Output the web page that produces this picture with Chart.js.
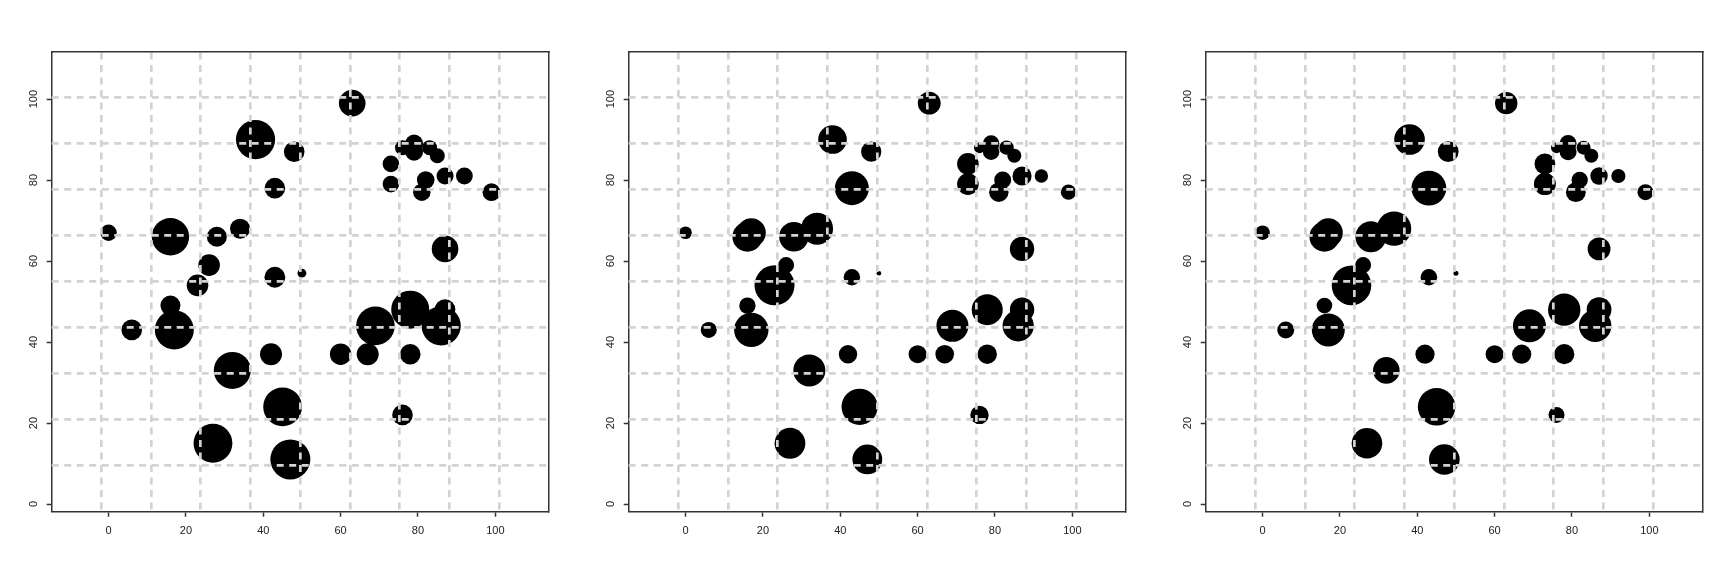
<!DOCTYPE html>
<html>
<head>
<meta charset="utf-8">
<script src="https://cdn.jsdelivr.net/npm/chart.js@4.4.1/dist/chart.umd.min.js"></script>
<style>
  html, body { margin: 0; padding: 0; background: #fff; }
  #wrap { display: flex; width: 1731px; height: 577px; }
  canvas { display: block; }
</style>
</head>
<body>
<div id="wrap">
  <canvas id="c1" width="577" height="577"></canvas>
  <canvas id="c2" width="577" height="577"></canvas>
  <canvas id="c3" width="577" height="577"></canvas>
</div>
<script>
// Point coordinates (same in all three panels)
const xs = [0, 16, 17, 28, 34, 26, 23, 43, 50, 16, 6, 17, 32, 42, 45, 27, 47, 38, 48, 43,
  63, 73, 73, 76, 79, 79, 83, 85, 82, 81, 87, 92, 99, 87, 78, 87, 86, 69, 60, 67, 78, 76];
const ys = [67, 66, 67, 66, 68, 59, 54, 56, 57, 49, 43, 43, 33, 37, 24, 15, 11, 90, 87, 78,
  99, 84, 79, 88, 89, 87, 88, 86, 80, 77, 81, 81, 77, 63, 48, 48, 44, 44, 37, 37, 37, 22];

// Bubble size per panel
const size1 = [8.2, 18.7, 8, 10, 10, 10.8, 10.8, 10.4, 4.4, 10, 10.3, 19.5, 18.5, 11, 19.4, 19.4, 20, 19.6, 10.3, 10.3,
  13.3, 8.3, 8.3, 7.5, 9, 9, 7.5, 7.5, 8.8, 8.7, 8.5, 8.4, 8.9, 13.3, 19, 10.3, 19.6, 19.3, 10.7, 11, 10.3, 10.3];
const size2 = [6.3, 15, 14.5, 14.7, 16, 8, 20, 8.2, 2.3, 8.2, 8, 17.2, 16, 9.2, 18.1, 15.4, 14.9, 14.3, 10.1, 17,
  11.4, 10.8, 10.8, 5.5, 8.3, 8.3, 7.2, 7, 8.5, 9.7, 9.6, 6.7, 7.6, 12.2, 15.5, 12.2, 15.6, 16, 9, 9.3, 9.7, 9.2];
const size3 = [7.3, 15, 14.5, 15.4, 17.2, 8, 19.8, 8.3, 2.5, 7.8, 8.5, 16.5, 13.3, 9.6, 18.8, 15.3, 15.3, 15.3, 10.4, 17.4,
  11.2, 10.4, 11, 5.5, 8.5, 8.5, 7, 7, 8.2, 9.9, 8.7, 7.1, 8, 11.4, 16.2, 12.4, 16.2, 16.5, 9, 9.6, 10.1, 8];

// Axis ticks and limits
const xTicks = [0, 20, 40, 60, 80, 100];
const yTicks = [0, 20, 40, 60, 80, 100];
const xLim = [-14.7, 113.8];
const yLim = [-1.9, 111.7];

const bubbleScale = 1;
const fuente = { family: "'Liberation Sans', Arial, sans-serif", size: 11 };

// grid() style: 9 interior lines splitting the plot region in 10
function gridLines(lim) {
  const paso = (lim[1] - lim[0]) / 10;
  return Array.from({ length: 9 }, (_, i) => lim[0] + (i + 1) * paso);
}

// Axis that only draws the dashed grid (on top of the bubbles) and one side of the box
function ejeGrid(pos, lim, fit) {
  return {
    type: "linear",
    position: pos,
    bounds: "data",
    min: lim[0],
    max: lim[1],
    afterBuildTicks: (s) => { s.ticks = gridLines(lim).map((v) => ({ value: v })); },
    afterFit: fit,
    ticks: { display: false },
    grid: { drawTicks: false, color: "#d3d3d3", lineWidth: 2.7, z: 1 },
    border: { display: true, color: "#333", width: 1.5, dash: [7, 5.5], z: 2 },
  };
}

function renderPanel(id, sizes) {
  const puntos = xs.map((x, i) => ({ x: x, y: ys[i], r: sizes[i] * bubbleScale }));

  new Chart(document.getElementById(id), {
    type: "bubble",
    data: {
      datasets: [{
        data: puntos,
        backgroundColor: "#000",
        borderWidth: 0,
        hoverRadius: 0,
      }],
    },
    options: {
      responsive: false,
      animation: false,
      devicePixelRatio: 1,
      layout: { padding: 0 },
      plugins: { legend: { display: false }, tooltip: { enabled: false } },
      scales: {
        x: {
          type: "linear",
          position: "bottom",
          bounds: "data",
          min: xLim[0],
          max: xLim[1],
          afterBuildTicks: (s) => { s.ticks = xTicks.map((v) => ({ value: v })); },
          afterFit: (s) => { s.height = 65.3; },
          ticks: { color: "#222", font: fuente, padding: 8, minRotation: 0, maxRotation: 0, autoSkip: false },
          grid: { drawOnChartArea: false, tickLength: 5, tickWidth: 1.5, tickColor: "#333" },
          border: { display: true, color: "#333", width: 1.5 },
        },
        y: {
          type: "linear",
          position: "left",
          bounds: "data",
          min: yLim[0],
          max: yLim[1],
          afterBuildTicks: (s) => { s.ticks = yTicks.map((v) => ({ value: v })); },
          afterFit: (s) => { s.width = 51.7; },
          ticks: { color: "#222", font: fuente, padding: 4, minRotation: 90, maxRotation: 90, crossAlign: "center", autoSkip: false },
          grid: { drawOnChartArea: false, tickLength: 5, tickWidth: 1.5, tickColor: "#333" },
          border: { display: true, color: "#333", width: 1.5 },
        },
        xg: ejeGrid("top", xLim, (s) => { s.height = 51.7; }),
        yg: ejeGrid("right", yLim, (s) => { s.width = 28.3; }),
      },
    },
  });
}

renderPanel("c1", size1);
renderPanel("c2", size2);
renderPanel("c3", size3);
</script>
</body>
</html>
